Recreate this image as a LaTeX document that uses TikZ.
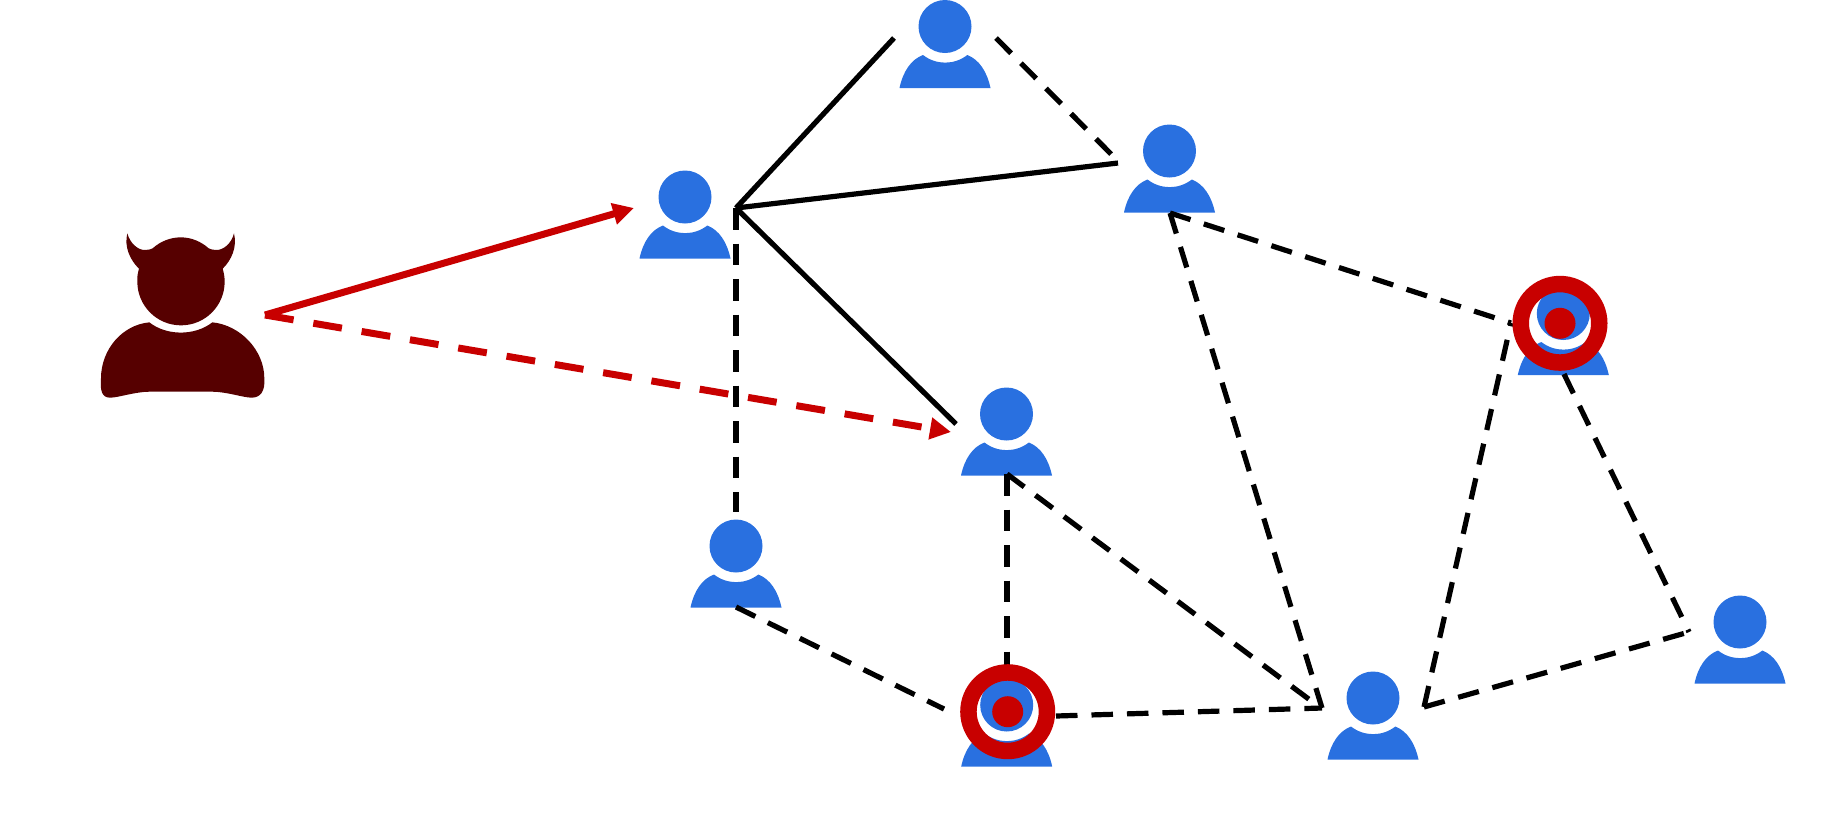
\documentclass[tikz,border=0pt]{standalone}
\usetikzlibrary{arrows.meta}
\definecolor{userblue}{HTML}{2970E0}
\definecolor{alarmred}{HTML}{C80000}
\definecolor{maroon}{HTML}{560000}
\tikzset{
  x=1pt,y=-1pt,
  link/.style={draw=black,line width=5.2pt},
  dashlink/.style={link,dash pattern=on 21.5pt off 14pt},
  attack/.style={draw=alarmred,line width=7pt,-{Triangle[length=21pt,width=21pt]}},
  dashattack/.style={attack,dash pattern=on 29pt off 20pt},
  userhead/.style={circle,fill=userblue,minimum size=53pt,inner sep=0pt,outer sep=0pt},
  target/.style={circle,draw=alarmred,line width=16.5pt,minimum size=78.5pt,inner sep=0pt,outer sep=0pt},
  targetdot/.style={circle,fill=alarmred,minimum size=31pt,inner sep=0pt,outer sep=0pt},
  userperson/.pic={
    \fill[userblue] (-45.5,61.5) .. controls (-42,45) and (-34,33) .. (-22,28.5)
      arc[start angle=232,end angle=308,radius=36,y radius=-36] 
      .. controls (34,33) and (42,45) .. (45.5,61.5) -- cycle;
  }
}
\begin{document}
\begin{tikzpicture}
\useasboundingbox (0,0) rectangle (1823,815);
% users
\foreach \nm/\px/\py in {top/945/26.5,hub/685/197,east/1169.5/151,mid/1006.5/414,low/736/546,vic/1006.7/705,vicb/1563.3/313.5,base/1373/698,far/1740/622}{
  \node[userhead] (\nm) at (\px,\py) {};
  \pic at (\px,\py) {userperson};
}
% connector ends
\coordinate (h) at (736,208);
\coordinate (topl) at (894,38);
\coordinate (topr) at (996,38);
\coordinate (eastl) at (1118,163);
\coordinate (eastd) at (1113,156);
\coordinate (midt) at (956,424);
\coordinate (lowt) at (736,512);
\coordinate (lowb) at (736,607);
\coordinate (eastb) at (1170,213);
\coordinate (vbl) at (1511,323);
\coordinate (vbb) at (1564,374);
\coordinate (hubc) at (1322,708);
\coordinate (midb) at (1007,474);
\coordinate (vict) at (1007,665);
\coordinate (vicl) at (944,709);
\coordinate (vicr) at (1056,716);
\coordinate (basel) at (1314,703);
\coordinate (baser) at (1424,707);
\coordinate (farl) at (1689,632);
\coordinate (devr) at (265,315);
\coordinate (huba) at (634,208);
\coordinate (mida) at (951,432);
% solid links
\draw[link] (h) -- (topl);
\draw[link] (h) -- (eastl);
\draw[link] (h) -- (midt);
% dashed links
\draw[dashlink] (topr) -- (eastd);
\draw[dashlink] (h) -- (lowt);
\draw[dashlink] (eastb) -- (vbl);
\draw[dashlink] (eastb) -- (hubc);
\draw[dashlink] (midb) -- (vict);
\draw[dashlink] (midb) -- (basel);
\draw[dashlink] (lowb) -- (vicl);
\draw[dashlink] (vicr) -- (hubc);
\draw[dashlink] (baser) -- (vbl);
\draw[dashlink] (baser) -- (farl);
\draw[dashlink] (vbb) -- (farl);
% targets
\node[target] (ringa) at (1007.7,711.7) {};
\node[targetdot] (dota) at (ringa) {};
\node[target] (ringb) at (1560,323.3) {};
\node[targetdot] (dotb) at (ringb) {};
% attacker
\begin{scope}[shift={(80,210)},x=.33333pt,y=-.33333pt]
\fill[maroon] (142,70) .. controls (150,100) and (175,122) .. (197,120)
  .. controls (207,119) and (213,118) .. (218,115)
  .. controls (240,95) and (270,82) .. (302,82)
  .. controls (334,82) and (364,95) .. (386,115)
  .. controls (391,118) and (397,119) .. (407,120)
  .. controls (429,122) and (455,100) .. (462,70)
  .. controls (472,110) and (455,150) .. (428,176)
  .. controls (432,190) and (434,202) .. (434,215)
  arc[start angle=0,end angle=180,radius=131]
  .. controls (171,202) and (173,190) .. (177,176)
  .. controls (150,150) and (132,110) .. (142,70) -- cycle;
\fill[maroon] (208,337) .. controls (260,378) and (345,378) .. (397,337)
  .. controls (480,345) and (553,420) .. (553,505)
  .. controls (556,545) and (540,563) .. (515,563)
  .. controls (490,563) and (440,545) .. (395,545)
  -- (210,545)
  .. controls (165,545) and (115,563) .. (90,563)
  .. controls (65,563) and (60,540) .. (63,505)
  .. controls (63,420) and (125,345) .. (208,337) -- cycle;
\end{scope}
% attacks
\draw[attack] (devr) -- (huba);
\draw[dashattack] (devr) -- (mida);
\end{tikzpicture}
\end{document}
